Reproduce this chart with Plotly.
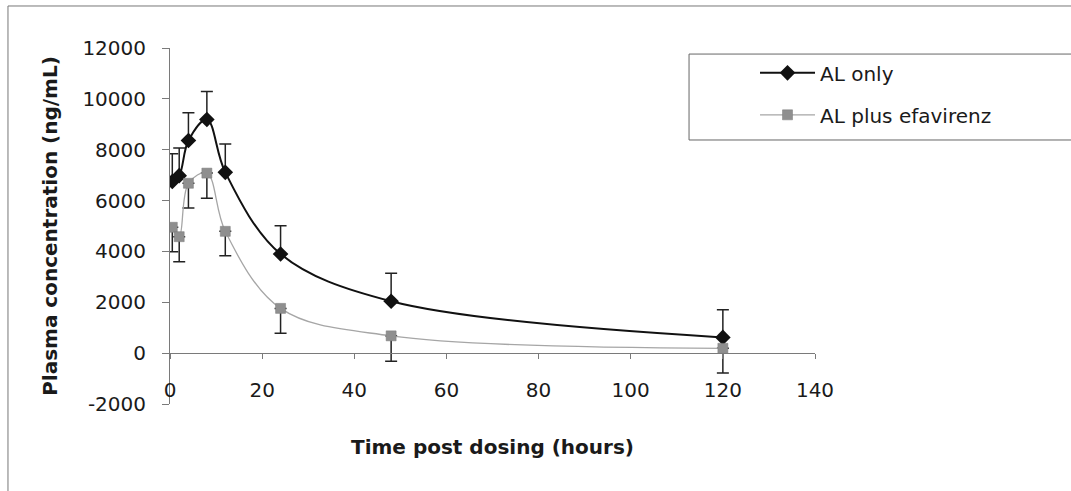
import plotly.graph_objects as go

# ---- data ----
time_h = [0.5, 2, 4, 8, 12, 24, 48, 120]
al_only = [6750, 6980, 8360, 9190, 7110, 3900, 2040, 620]
al_only_err = [1090, 1090, 1090, 1100, 1110, 1110, 1100, 1090]
al_efv = [4950, 4580, 6680, 7080, 4790, 1760, 680, 190]
al_efv_err = [960, 985, 970, 985, 960, 975, 995, 975]

x_ticks = [0, 20, 40, 60, 80, 100, 120, 140]
x_tick_text = ["0", "20", "40", "60", "80", "100", "120", "140"]
y_ticks = [-2000, 0, 2000, 4000, 6000, 8000, 10000, 12000]
y_tick_text = ["-2000", "0", "2000", "4000", "6000", "8000", "10000", "12000"]
x_range = [0, 140]
y_range = [-2000, 12000]

FONT = "DejaVu Sans"
AXIS_COL = "#7a7a7a"
TXT = "#1a1a1a"

fig = go.Figure()

fig.add_trace(go.Scatter(
    x=time_h, y=al_only, name="AL only", legendgroup="a",
    mode="lines+markers",
    line=dict(color="#111111", width=2, shape="spline", smoothing=1),
    marker=dict(symbol="diamond", size=12, color="#111111"),
    error_y=dict(type="data", symmetric=False, array=al_only_err,
                 arrayminus=[0] * len(al_only_err),
                 color="#222222", thickness=1.5, width=6),
))

fig.add_trace(go.Scatter(
    x=time_h, y=al_efv, name="AL plus efavirenz", legendgroup="b",
    mode="lines+markers",
    line=dict(color="#a6a6a6", width=1.3, shape="spline", smoothing=1),
    marker=dict(symbol="square", size=10, color="#8f8f8f",
                line=dict(color="#7a7a7a", width=0.5)),
    error_y=dict(type="data", symmetric=False, array=[0] * len(al_efv_err),
                 arrayminus=al_efv_err,
                 color="#222222", thickness=1.5, width=6),
))

# x axis sits at y = 0
x_pos = (0 - y_range[0]) / (y_range[1] - y_range[0])

fig.update_layout(
    width=1071, height=491,
    margin=dict(l=170, r=256, t=48, b=87),
    paper_bgcolor="white", plot_bgcolor="white",
    font=dict(family=FONT, size=20, color=TXT),
    showlegend=True,
    legend=dict(
        x=0.907, y=0.985, xanchor="left", yanchor="top",
        bgcolor="rgba(0,0,0,0)", borderwidth=0,
        font=dict(family=FONT, size=20, color=TXT),
        traceorder="grouped", tracegroupgap=13,
        itemwidth=55,
    ),
    xaxis=dict(
        range=x_range, tickvals=x_ticks, ticktext=x_tick_text,
        anchor="free", position=x_pos,
        showline=True, linecolor=AXIS_COL, linewidth=1,
        ticks="outside", ticklen=5, tickcolor=AXIS_COL, tickwidth=1,
        ticklabelstandoff=14,
        showgrid=False, zeroline=False,
        tickfont=dict(family=FONT, size=20, color=TXT),
        title=dict(text="Time post dosing (hours)",
                   font=dict(family=FONT, size=20, weight="bold", color=TXT),
                   standoff=38),
    ),
    yaxis=dict(
        range=y_range, tickvals=y_ticks, ticktext=y_tick_text,
        showline=True, linecolor=AXIS_COL, linewidth=1,
        ticks="outside", ticklen=7, tickcolor=AXIS_COL, tickwidth=1,
        ticklabelstandoff=12,
        showgrid=False, zeroline=False,
        tickfont=dict(family=FONT, size=20, color=TXT),
        title=dict(text="Plasma concentration (ng/mL)",
                   font=dict(family=FONT, size=20, weight="bold", color=TXT),
                   standoff=19),
    ),
    shapes=[
        # legend frame: left, top and bottom edges (runs past the right edge)
        dict(type="path", xref="paper", yref="paper",
             path="M 1.5,0.983 L 0.8047,0.983 L 0.8047,0.7416 L 1.5,0.7416",
             line=dict(color="#666666", width=1), layer="below"),
        # outer chart frame: left and top edges only
        dict(type="path", xref="paper", yref="paper",
             path="M -0.2512,-0.4 L -0.2512,1.118 L 1.5,1.118",
             line=dict(color="#777777", width=1), layer="below"),
    ],
)

fig.write_html("out.html")
